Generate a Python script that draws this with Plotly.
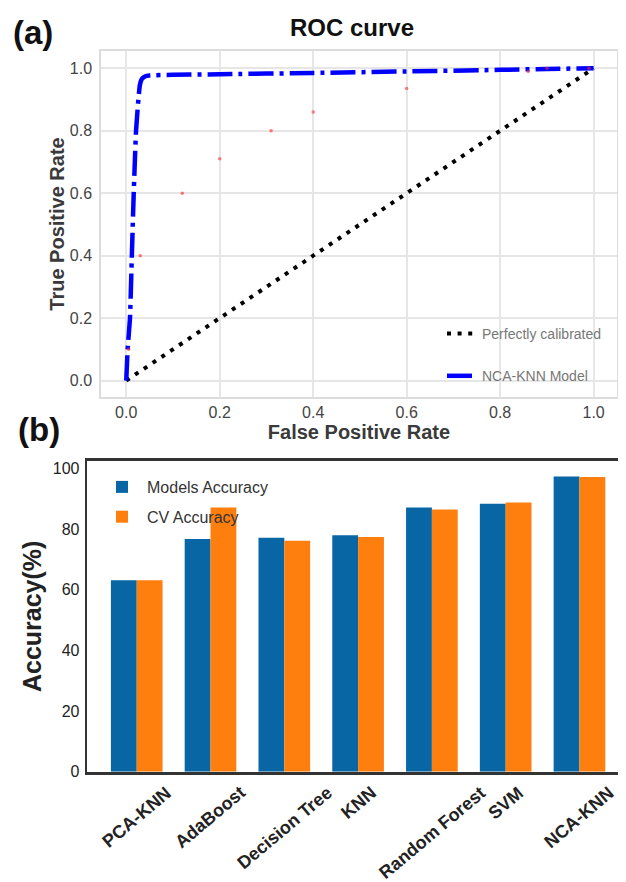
import plotly.graph_objects as go

# ---------------- data ----------------
# ROC panel
diag_x = [0.0, 1.0]
diag_y = [0.0, 1.0]
roc_fpr = [0.0, 0.003, 0.008, 0.012, 0.016, 0.021, 0.026, 0.029, 0.033, 0.040, 0.050, 0.10, 0.20, 0.40, 0.60, 0.80, 0.90, 1.0]
roc_tpr = [0.0, 0.10, 0.20, 0.40, 0.60, 0.80, 0.90, 0.945, 0.965, 0.974, 0.977, 0.979, 0.981, 0.985, 0.990, 0.995, 0.998, 1.0]
red_fpr = [0.005, 0.03, 0.12, 0.20, 0.31, 0.40, 0.60, 0.86, 0.90, 0.99]
red_tpr = [0.10, 0.40, 0.60, 0.71, 0.80, 0.86, 0.935, 0.99, 1.0, 1.0]
roc_ticks = [0.0, 0.2, 0.4, 0.6, 0.8, 1.0]

# Accuracy panel
models = ["PCA-KNN", "AdaBoost", "Decision Tree", "KNN", "Random Forest", "SVM", "NCA-KNN"]
model_acc = [63.2, 76.8, 77.2, 78.0, 87.2, 88.4, 97.4]
cv_acc = [63.2, 87.2, 76.2, 77.4, 86.5, 88.8, 97.2]
acc_ticks = [0, 20, 40, 60, 80, 100]

BLUE = "#0766a3"
ORANGE = "#ff7f0e"
FONT = "Liberation Sans, Arial, sans-serif"

fig = go.Figure()

# ---- ROC panel ----
fig.add_trace(go.Scatter(
    x=diag_x, y=diag_y, mode="lines", name="Perfectly calibrated",
    line=dict(color="black", width=4, dash="4px,6.6px"),
    xaxis="x", yaxis="y", legend="legend", legendgroup="a1"))
fig.add_trace(go.Scatter(
    x=roc_fpr, y=roc_tpr, mode="lines", name="NCA-KNN Model",
    line=dict(color="#0000ff", width=4.5, dash="25px,6px,4px,6px", shape="spline", smoothing=0.4),
    xaxis="x", yaxis="y", legend="legend", legendgroup="a2"))
fig.add_trace(go.Scatter(
    x=red_fpr, y=red_tpr, mode="markers", showlegend=False,
    marker=dict(color="rgba(255,40,40,0.6)", size=3.5),
    xaxis="x", yaxis="y", hoverinfo="skip"))

# ---- Accuracy panel ----
fig.add_trace(go.Bar(
    x=models, y=model_acc, name="Models Accuracy", marker=dict(color=BLUE, line=dict(width=0)),
    xaxis="x2", yaxis="y2", legend="legend2", legendgroup="b1"))
fig.add_trace(go.Bar(
    x=models, y=cv_acc, name="CV Accuracy", marker=dict(color=ORANGE, line=dict(width=0)),
    xaxis="x2", yaxis="y2", legend="legend2", legendgroup="b2"))

W, H = 626, 882
OFF = 8  # page body margin offset (window px -> paper px)

def px_x(p):
    return (p - OFF) / W

def px_y(p):
    return 1 - (p - OFF) / H

annotations = [
    dict(text="<b>(a)</b>", x=px_x(33), y=px_y(32), xref="paper", yref="paper",
         xanchor="center", yanchor="middle",
         showarrow=False, font=dict(size=33, color="#111", family=FONT)),
    dict(text="<b>(b)</b>", x=px_x(39), y=px_y(429), xref="paper", yref="paper",
         xanchor="center", yanchor="middle",
         showarrow=False, font=dict(size=33, color="#111", family=FONT)),
    dict(text="<b>ROC curve</b>", x=px_x(352), y=px_y(28), xref="paper", yref="paper",
         xanchor="center", yanchor="middle",
         showarrow=False, font=dict(size=24, color="#111", family=FONT)),
]
for m in models:
    annotations.append(dict(
        text="<b>" + m + "</b>", x=m, y=0, xref="x2", yref="y2",
        xanchor="center", yanchor="top", yshift=-8, textangle=-40,
        showarrow=False, font=dict(size=18, color="#222", family=FONT)))

fig.update_layout(
    template="none",
    width=W, height=H,
    margin=dict(l=0, r=0, t=0, b=0, pad=0),
    paper_bgcolor="white", plot_bgcolor="white",
    font=dict(family=FONT, color="#222"),
    barmode="group", bargap=0.3, bargroupgap=0,
    annotations=annotations,
    xaxis=dict(
        domain=[px_x(101), px_x(617)], anchor="y", automargin=False,
        range=[-0.054, 1.050], tickvals=roc_ticks, tickformat=".1f",
        showgrid=True, gridcolor="#e6e6e6", gridwidth=1.5, zeroline=False,
        showline=True, linecolor="#dcdcdc", linewidth=1.5, mirror=True,
        ticks="", ticklabelstandoff=0,
        tickfont=dict(size=16, color="#444", family=FONT),
        title=dict(text="<b>False Positive Rate</b>", standoff=4,
                   font=dict(size=20, color="#3a3a3a", family=FONT))),
    yaxis=dict(
        domain=[px_y(397), px_y(51)], anchor="x", automargin=False,
        range=[-0.0526, 1.0554], tickvals=roc_ticks, tickformat=".1f",
        showgrid=True, gridcolor="#e6e6e6", gridwidth=1.5, zeroline=False,
        showline=True, linecolor="#dcdcdc", linewidth=1.5, mirror=True,
        ticks="", ticklabelstandoff=4,
        tickfont=dict(size=16, color="#444", family=FONT),
        title=dict(text="<b>True Positive Rate</b>", standoff=0,
                   font=dict(size=20, color="#3a3a3a", family=FONT))),
    xaxis2=dict(
        domain=[px_x(86.7), px_x(629.5)], anchor="y2", automargin=False,
        range=[-0.678, 6.678], showticklabels=False, ticks="",
        showgrid=False, zeroline=False,
        showline=True, linecolor="#333", linewidth=2.5, mirror=True),
    yaxis2=dict(
        domain=[px_y(771.7), px_y(461)], anchor="x2", automargin=False,
        range=[0, 102.5], tickvals=acc_ticks,
        showgrid=False, zeroline=False,
        showline=True, linecolor="#333", linewidth=2, mirror=True,
        ticks="", ticklabelstandoff=2,
        tickfont=dict(size=16, color="#222", family=FONT),
        title=dict(text="<b>Accuracy(%)</b>", standoff=4,
                   font=dict(size=25, color="#222", family=FONT))),
    legend=dict(
        x=px_x(442), y=px_y(318), xanchor="left", yanchor="top",
        bgcolor="rgba(0,0,0,0)", borderwidth=0, tracegroupgap=21,
        font=dict(size=14, color="#777", family=FONT)),
    legend2=dict(
        x=px_x(97), y=px_y(470), xanchor="left", yanchor="top",
        bgcolor="rgba(0,0,0,0)", borderwidth=0, tracegroupgap=6, itemwidth=40,
        font=dict(size=16, color="#333", family=FONT)),
)

fig.write_html("out.html")
